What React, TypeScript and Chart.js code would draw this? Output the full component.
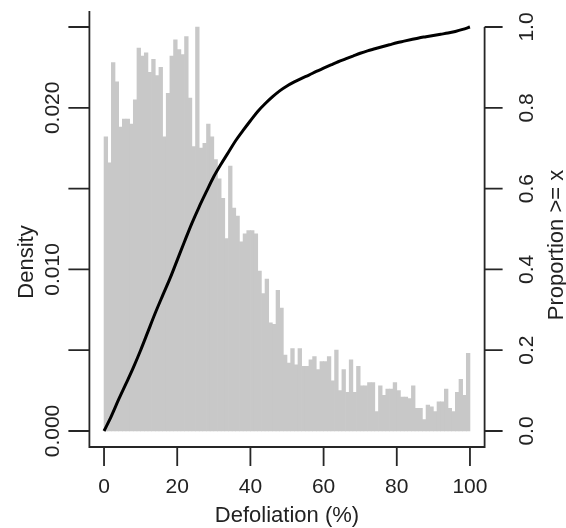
import React, { useEffect, useRef } from "react";
import { Chart, registerables } from "chart.js";

Chart.register(...registerables);

// Histogram: density per 1%-wide bin, bins 0-1, 1-2, ..., 99-100
const BIN_START = 0;
const BIN_WIDTH = 1;
const densityValues = [
  0.0182, 0.0166, 0.0228, 0.0216, 0.0188, 0.0193, 0.0193, 0.0190, 0.0205, 0.0237,
  0.0232, 0.0234, 0.0222, 0.0230, 0.0220, 0.0225, 0.0182, 0.0209, 0.0232, 0.0242,
  0.0236, 0.0233, 0.0244, 0.0206, 0.0176, 0.0250, 0.0175, 0.0178, 0.0190, 0.0182,
  0.0168, 0.0156, 0.0144, 0.0119, 0.0164, 0.0138, 0.0133, 0.0117, 0.0122, 0.0124,
  0.0124, 0.0122, 0.0099, 0.0085, 0.0094, 0.0067, 0.0066, 0.0087, 0.0076, 0.0047,
  0.0042, 0.0051, 0.0041, 0.0051, 0.0040, 0.0040, 0.0044, 0.0046, 0.0038, 0.0043,
  0.0043, 0.0046, 0.0031, 0.0050, 0.0025, 0.0038, 0.0024, 0.0044, 0.0024, 0.0040,
  0.0028, 0.0028, 0.0030, 0.0030, 0.0012, 0.0028, 0.0022, 0.0026, 0.0026, 0.0030,
  0.0025, 0.0021, 0.0021, 0.0020, 0.0028, 0.0014, 0.0014, 0.0007, 0.0016, 0.0015,
  0.0012, 0.0018, 0.0018, 0.0026, 0.0014, 0.0012, 0.0024, 0.0032, 0.0022, 0.0048,
];

// Cumulative proportion curve
const curveX = [
  0, 2, 4, 6, 8, 10, 12, 14, 16, 18, 20, 22, 24, 26, 28, 30, 32, 34, 36, 38, 40,
  42, 44, 46, 48, 50, 52, 54, 56, 58, 60, 62, 64, 66, 68, 70, 72, 74, 76, 78, 80,
  82, 84, 86, 88, 90, 92, 94, 96, 98, 100,
];
const curveY = [
  0.0, 0.037, 0.078, 0.117, 0.157, 0.2, 0.246, 0.292, 0.335, 0.377, 0.423,
  0.469, 0.514, 0.555, 0.593, 0.63, 0.661, 0.69, 0.719, 0.744, 0.768,
  0.791, 0.81, 0.827, 0.842, 0.854, 0.864, 0.873, 0.881, 0.89, 0.898,
  0.906, 0.914, 0.921, 0.928, 0.935, 0.941, 0.946, 0.951, 0.956, 0.961,
  0.965, 0.969, 0.973, 0.976, 0.979, 0.982, 0.985, 0.989, 0.994, 1.0,
];

const xTicks = [0, 20, 40, 60, 80, 100];
const xTickLabels = ["0", "20", "40", "60", "80", "100"];
const densityTicks = [0, 0.005, 0.01, 0.015, 0.02, 0.025];
const densityTickLabels = ["0.000", "", "0.010", "", "0.020", ""];
const propTicks = [0, 0.2, 0.4, 0.6, 0.8, 1.0];
const propTickLabels = ["0.0", "0.2", "0.4", "0.6", "0.8", "1.0"];

const xTitle = "Defoliation (%)";
const yTitle = "Density";
const y2Title = "Proportion >= x";

const BAR_COLOR = "#c8c8c8";
const AXIS_COLOR = "#262626";
const TEXT_COLOR = "#222222";
const TICK_FONT = '21px "Liberation Sans", Arial, Helvetica, sans-serif';
const TITLE_FONT = '22px "Liberation Sans", Arial, Helvetica, sans-serif';
const TICK = 19;

function vText(ctx: CanvasRenderingContext2D, s: string, x: number, y: number) {
  ctx.save();
  ctx.translate(x, y);
  ctx.rotate(-Math.PI / 2);
  ctx.textAlign = "center";
  ctx.textBaseline = "alphabetic";
  ctx.fillText(s, 0, 0);
  ctx.restore();
}

const rAxesPlugin = {
  id: "rAxes",
  afterDraw(chart: any) {
    const { ctx, chartArea: a, scales } = chart;
    const xs = scales.x;
    const ys = scales.y;
    const y2 = scales.y2;
    ctx.save();
    ctx.strokeStyle = AXIS_COLOR;
    ctx.lineWidth = 1.8;
    ctx.lineCap = "butt";
    ctx.lineJoin = "miter";

    // frame: left, bottom, right
    ctx.beginPath();
    ctx.moveTo(a.left, a.top);
    ctx.lineTo(a.left, a.bottom);
    ctx.lineTo(a.right, a.bottom);
    ctx.lineTo(a.right, y2.getPixelForValue(propTicks[propTicks.length - 1]));
    ctx.stroke();

    ctx.beginPath();
    densityTicks.forEach((v) => {
      const py = ys.getPixelForValue(v);
      ctx.moveTo(a.left, py);
      ctx.lineTo(a.left - TICK - 2, py);
    });
    xTicks.forEach((v) => {
      const px = xs.getPixelForValue(v);
      ctx.moveTo(px, a.bottom);
      ctx.lineTo(px, a.bottom + TICK);
    });
    propTicks.forEach((v) => {
      const py = y2.getPixelForValue(v);
      ctx.moveTo(a.right, py);
      ctx.lineTo(a.right + TICK - 1, py);
    });
    ctx.stroke();

    ctx.fillStyle = TEXT_COLOR;
    ctx.font = TICK_FONT;
    densityTicks.forEach((v, i) => {
      if (densityTickLabels[i]) vText(ctx, densityTickLabels[i], 59, ys.getPixelForValue(v));
    });
    propTicks.forEach((v, i) => {
      vText(ctx, propTickLabels[i], 533, y2.getPixelForValue(v));
    });
    ctx.textAlign = "center";
    ctx.textBaseline = "alphabetic";
    xTicks.forEach((v, i) => {
      ctx.fillText(xTickLabels[i], xs.getPixelForValue(v), 493);
    });
    ctx.font = TITLE_FONT;
    ctx.textAlign = "center";
    ctx.fillText(xTitle, (a.left + a.right) / 2, 522);
    vText(ctx, yTitle, 33, 262);
    vText(ctx, y2Title, 563, 245);
    ctx.restore();
  },
};

export default function App() {
  const canvasRef = useRef<HTMLCanvasElement | null>(null);

  useEffect(() => {
    document.body.style.margin = "0";
    const canvas = canvasRef.current;
    if (!canvas) return;
    const barData = densityValues.map((d, i) => ({
      x: BIN_START + BIN_WIDTH * i + BIN_WIDTH / 2,
      y: d,
    }));
    const lineData = curveX.map((x, i) => ({ x, y: curveY[i] }));

    const chart = new Chart(canvas, {
      type: "bar",
      data: {
        datasets: [
          {
            type: "line",
            label: "Proportion",
            data: lineData,
            xAxisID: "x",
            yAxisID: "y2",
            borderColor: "#000000",
            borderWidth: 3,
            pointRadius: 0,
            cubicInterpolationMode: "monotone",
            fill: false,
            order: 0,
          } as any,
          {
            type: "bar",
            label: "Density",
            data: barData,
            xAxisID: "x",
            yAxisID: "y",
            backgroundColor: BAR_COLOR,
            borderWidth: 0,
            barPercentage: 1,
            categoryPercentage: 1,
            order: 1,
          } as any,
        ],
      },
      options: {
        responsive: true,
        maintainAspectRatio: false,
        animation: false,
        devicePixelRatio: 1,
        layout: { padding: { left: 89.4, right: 81.4, top: 11, bottom: 81 } },
        plugins: {
          legend: { display: false },
          tooltip: { enabled: false },
          title: { display: false },
        },
        scales: {
          x: { type: "linear", min: -4, max: 104, offset: false, display: false },
          y: { type: "linear", min: -0.00099, max: 0.02599, display: false },
          y2: { type: "linear", position: "right", min: -0.0396, max: 1.0396, display: false },
        },
      },
      plugins: [rAxesPlugin],
    } as any);
    return () => chart.destroy();
  }, []);

  return (
    <div style={{ position: "absolute", left: 0, top: 0, width: 566, height: 528, background: "#ffffff" }}>
      <canvas ref={canvasRef} width={566} height={528} />
    </div>
  );
}
